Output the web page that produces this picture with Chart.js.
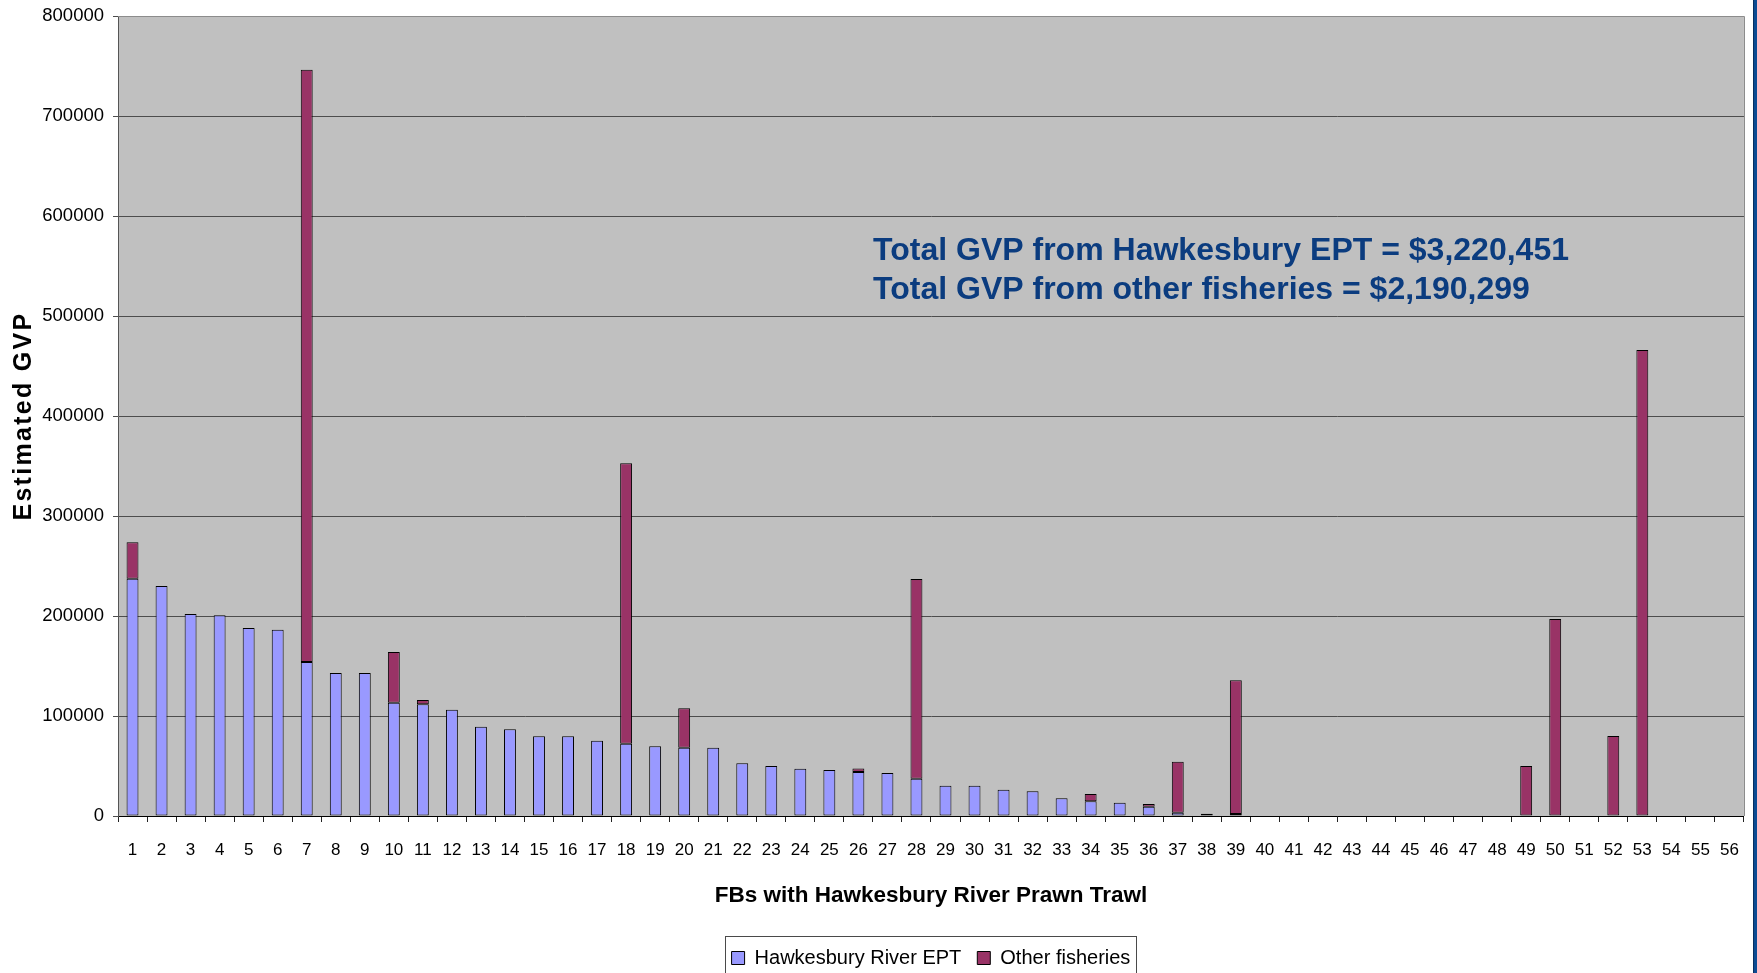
<!DOCTYPE html>
<html>
<head>
<meta charset="utf-8">
<script src="https://cdn.jsdelivr.net/npm/chart.js@4.4.1/dist/chart.umd.min.js"></script>
<style>
  html, body { margin: 0; padding: 0; background: #ffffff; overflow: hidden; }
  #wrap { position: relative; width: 1757px; height: 973px; }
  canvas { display: block; }
</style>
</head>
<body>
<div id="wrap"><canvas id="c" width="1757" height="973"></canvas></div>
<script>
// ---------- DATA ----------
const categories = ['1','2','3','4','5','6','7','8','9','10','11','12','13','14','15','16','17','18','19','20',
  '21','22','23','24','25','26','27','28','29','30','31','32','33','34','35','36','37','38','39','40',
  '41','42','43','44','45','46','47','48','49','50','51','52','53','54','55','56'];

const hawkesburyEPT = [237300, 230000, 202000, 200700, 188000, 186300, 154000, 143000, 143000, 113300,
  111700, 106300, 89300, 86700, 79700, 79700, 75300, 72300, 69700, 68300,
  68300, 52700, 50000, 47300, 46000, 44000, 43000, 37300, 30300, 30300,
  26300, 24700, 17700, 14700, 13300, 9300, 3300, 2300, 2000, 0,
  0, 0, 0, 0, 0, 0, 0, 0, 0, 0,
  0, 0, 0, 0, 0, 0];

const otherFisheries = [36400, 0, 0, 0, 0, 0, 592300, 0, 0, 50700,
  4300, 0, 0, 0, 0, 0, 0, 280400, 0, 39400,
  0, 0, 0, 0, 0, 3600, 0, 199700, 0, 0,
  0, 0, 0, 7300, 0, 2700, 51000, 0, 133700, 0,
  0, 0, 0, 0, 0, 0, 0, 0, 50000, 197000,
  0, 80000, 466000, 0, 0, 0];

const seriesLabels = ['Hawkesbury River EPT', 'Other fisheries'];
const xAxisTitle = 'FBs with Hawkesbury River Prawn Trawl';
const yAxisTitle = 'Estimated GVP';
const yMin = 0, yMax = 800000, yStep = 100000;
const annotationLines = ['Total GVP from Hawkesbury EPT = $3,220,451', 'Total GVP from other fisheries = $2,190,299'];

// ---------- STYLE ----------
const FONT = '"Liberation Sans", Arial, Helvetica, sans-serif';
Chart.defaults.font.family = FONT;
Chart.defaults.color = '#000';

const bgPlugin = {
  id: 'bg',
  beforeDraw(chart) {
    const { ctx, chartArea: a } = chart;
    ctx.save();
    ctx.fillStyle = '#ffffff';
    ctx.fillRect(0, 0, chart.width, chart.height);
    ctx.fillStyle = '#C0C0C0';
    ctx.fillRect(a.left, a.top, a.right - a.left, a.bottom - a.top);
    ctx.restore();
    // letter-spaced y title
    const ys = chart.scales.y;
    if (ys && !ys.__lsPatched) {
      const orig = ys.drawTitle;
      ys.drawTitle = function () {
        const c = this.ctx;
        c.save();
        c.letterSpacing = '2.3px';
        orig.call(this);
        c.restore();
      };
      ys.__lsPatched = true;
    }
  },
  afterDraw(chart) {
    const { ctx, chartArea: a } = chart;
    ctx.save();
    // plot border (top/right) in light gray
    ctx.strokeStyle = '#8c8c8c';
    ctx.lineWidth = 1;
    ctx.beginPath();
    ctx.moveTo(a.left, Math.round(a.top) + 0.5);
    ctx.lineTo(Math.round(a.right) + 0.5, Math.round(a.top) + 0.5);
    ctx.lineTo(Math.round(a.right) + 0.5, a.bottom);
    ctx.stroke();

    // legend frame
    const hb = chart.legend && chart.legend.legendHitBoxes;
    if (hb && hb.length) {
      const left = Math.min(...hb.map(h => h.left)) - 7;
      const right = Math.max(...hb.map(h => h.left + h.width)) + 5;
      const top = hb[0].top - 12;
      ctx.strokeStyle = '#4a4a4a';
      ctx.lineWidth = 1;
      ctx.strokeRect(Math.round(left) + 0.5, Math.round(top) + 0.5, Math.round(right - left), 80);
    }

    // annotation text
    ctx.font = 'bold 32px ' + FONT;
    ctx.fillStyle = '#0B3C7F';
    ctx.textBaseline = 'alphabetic';
    ctx.textAlign = 'left';
    const w0 = ctx.measureText(annotationLines[0]).width;
    const sx = 696 / w0;
    const baselines = [260, 299];
    annotationLines.forEach((t, i) => {
      ctx.save();
      ctx.translate(873, baselines[i]);
      ctx.scale(sx, 1);
      ctx.fillText(t, 0, 0);
      ctx.restore();
    });

    // navy frame strip on the right
    ctx.fillStyle = '#0c4b93';
    ctx.fillRect(1753, 0, 4, chart.height);
    ctx.fillStyle = '#072f61';
    ctx.fillRect(1753, 0, 1, chart.height);
    ctx.restore();
  }
};

const chart = new Chart(document.getElementById('c').getContext('2d'), {
  type: 'bar',
  data: {
    labels: categories,
    datasets: [
      { label: seriesLabels[0], data: hawkesburyEPT, backgroundColor: '#9999FF', borderColor: '#000000', borderWidth: 1, borderSkipped: false },
      { label: seriesLabels[1], data: otherFisheries, backgroundColor: '#993366', borderColor: '#000000', borderWidth: 1, borderSkipped: false }
    ]
  },
  options: {
    responsive: false,
    animation: false,
    devicePixelRatio: 1,
    layout: { padding: { top: 16, right: 13, bottom: -5, left: 0 } },
    datasets: { bar: { categoryPercentage: 1.0, barPercentage: 0.41 } },
    scales: {
      x: {
        stacked: true,
        grid: { display: true, drawOnChartArea: false, offset: true, tickLength: 6, color: '#222', tickColor: '#222', lineWidth: 1 },
        border: { display: true, color: '#000', width: 1 },
        ticks: { color: '#000', font: { size: 17 }, padding: 18, maxRotation: 0, minRotation: 0, autoSkip: false },
        title: { display: true, text: xAxisTitle, color: '#000', font: { size: 22.5, weight: 'bold' }, padding: { top: 0, bottom: 23 } },
        afterFit(s) { s.height = 116; }
      },
      y: {
        stacked: true,
        min: yMin, max: yMax,
        ticks: { stepSize: yStep, color: '#000', font: { size: 18.5 }, padding: 9, callback: v => String(v) },
        grid: {
          color: c => (c.tick && c.tick.value === yMax) ? '#8c8c8c' : '#4d4d4d',
          tickColor: '#4d4d4d', tickLength: 5, lineWidth: 1
        },
        border: { display: true, color: '#555', width: 1 },
        title: { display: true, text: yAxisTitle, color: '#000', font: { size: 25, weight: 'bold' }, padding: { top: 9, bottom: 0 } },
        afterFit(s) { s.width = 118; s.paddingTop = 0; s.paddingBottom = 0; }
      }
    },
    plugins: {
      legend: {
        display: true,
        position: 'bottom',
        fullSize: false,
        labels: { color: '#000', font: { size: 20 }, boxWidth: 13, boxHeight: 13, padding: 16 }
      },
      tooltip: { enabled: false }
    }
  },
  plugins: [bgPlugin]
});
chart.draw();
</script>
</body>
</html>
